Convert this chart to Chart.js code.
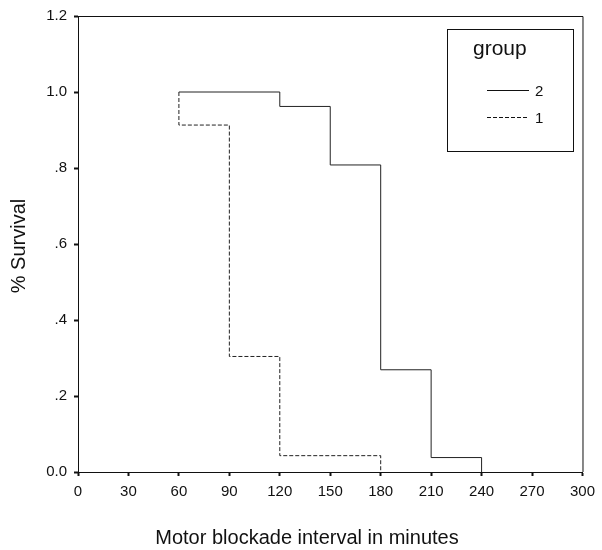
<!DOCTYPE html>
<html>
<head>
<meta charset="utf-8">
<script src="https://cdn.jsdelivr.net/npm/chart.js@4"></script>
<style>
  html, body { margin: 0; padding: 0; background: #fff; }
  #wrap { width: 602px; height: 550px; }
</style>
</head>
<body>
<div id="wrap"><canvas id="survival-chart" width="602" height="550"></canvas></div>
<script>
// Kaplan-Meier style survival data
const group2Times = [60, 120, 150, 180, 210, 240];
const group2Survival = [1.0, 0.962, 0.808, 0.269, 0.038, 0];
const group1Times = [60, 60, 90, 120, 180];
const group1Survival = [1.0, 0.913, 0.304, 0.043, 0];
const groupLabels = ['2', '1'];
const yTickLabels = ['0.0', '.2', '.4', '.6', '.8', '1.0', '1.2'];

const FONT = '"Liberation Sans", Arial, sans-serif';
const INK = '#111';

function toPoints(times, values) {
    return times.map((t, i) => ({ x: t, y: values[i] }));
}

// full box round the plot area
const framePlugin = {
    id: 'frame',
    afterDraw(chart) {
        const { ctx, chartArea: a } = chart;
        ctx.save();
        ctx.strokeStyle = INK;
        ctx.lineWidth = 1;
        ctx.beginPath();
        ctx.moveTo(a.left, a.top + 0.5);
        ctx.lineTo(a.right + 0.5, a.top + 0.5);
        ctx.lineTo(a.right + 0.5, a.bottom);
        ctx.stroke();
        ctx.restore();
    }
};

// axis titles placed where the original has them
const titlesPlugin = {
    id: 'titles',
    afterDraw(chart) {
        const ctx = chart.ctx;
        ctx.save();
        ctx.fillStyle = INK;
        ctx.font = '20px ' + FONT;
        ctx.textAlign = 'center';
        ctx.textBaseline = 'alphabetic';
        ctx.fillText('Motor blockade interval in minutes', 307, 544);
        ctx.translate(25, 246);
        ctx.rotate(-Math.PI / 2);
        ctx.fillText('% Survival', 0, 0);
        ctx.restore();
    }
};

// boxed legend in the top right corner
const boxLegendPlugin = {
    id: 'boxLegend',
    afterDraw(chart) {
        const ctx = chart.ctx;
        ctx.save();
        ctx.strokeStyle = INK;
        ctx.lineWidth = 1;
        ctx.strokeRect(447.5, 29.5, 126, 122);
        ctx.fillStyle = INK;
        ctx.font = '21px ' + FONT;
        ctx.textBaseline = 'alphabetic';
        ctx.textAlign = 'left';
        ctx.fillText('group', 473, 55);
        ctx.font = '15px ' + FONT;
        ctx.textBaseline = 'middle';
        chart.data.datasets.forEach((ds, i) => {
            const y = 90.5 + i * 27;
            ctx.beginPath();
            ctx.setLineDash(ds.borderDash || []);
            ctx.moveTo(487, y);
            ctx.lineTo(529, y);
            ctx.stroke();
            ctx.setLineDash([]);
            ctx.fillText(ds.label, 535, y + 1);
        });
        ctx.restore();
    }
};

new Chart(document.getElementById('survival-chart'), {
    type: 'line',
    data: {
        datasets: [
            {
                label: groupLabels[0],
                data: toPoints(group2Times, group2Survival),
                stepped: 'before',
                borderColor: '#222',
                borderWidth: 1,
                pointRadius: 0,
                fill: false
            },
            {
                label: groupLabels[1],
                data: toPoints(group1Times, group1Survival),
                stepped: 'before',
                borderColor: '#222',
                borderWidth: 1,
                borderDash: [4, 2],
                pointRadius: 0,
                fill: false
            }
        ]
    },
    options: {
        responsive: false,
        animation: false,
        layout: { padding: { top: 12, right: 14, left: 0, bottom: 0 } },
        plugins: {
            legend: { display: false },
            tooltip: { enabled: false }
        },
        scales: {
            x: {
                type: 'linear',
                min: 0,
                max: 300,
                afterFit(axis) { axis.height = 78; },
                border: { display: true, color: INK, width: 1 },
                grid: { display: true, drawOnChartArea: false, tickLength: 4, tickWidth: 2, tickColor: INK },
                ticks: {
                    stepSize: 30,
                    padding: 7,
                    maxRotation: 0,
                    color: INK,
                    font: { family: FONT, size: 15 }
                }
            },
            y: {
                min: 0,
                max: 1.2,
                afterFit(axis) { axis.width = 78; },
                border: { display: true, color: INK, width: 1 },
                grid: { display: true, drawOnChartArea: false, tickLength: 4, tickWidth: 2, tickColor: INK },
                ticks: {
                    stepSize: 0.2,
                    padding: 7,
                    color: INK,
                    font: { family: FONT, size: 15 },
                    callback: (value, index) => yTickLabels[index]
                }
            }
        }
    },
    plugins: [framePlugin, titlesPlugin, boxLegendPlugin]
});
</script>
</body>
</html>
